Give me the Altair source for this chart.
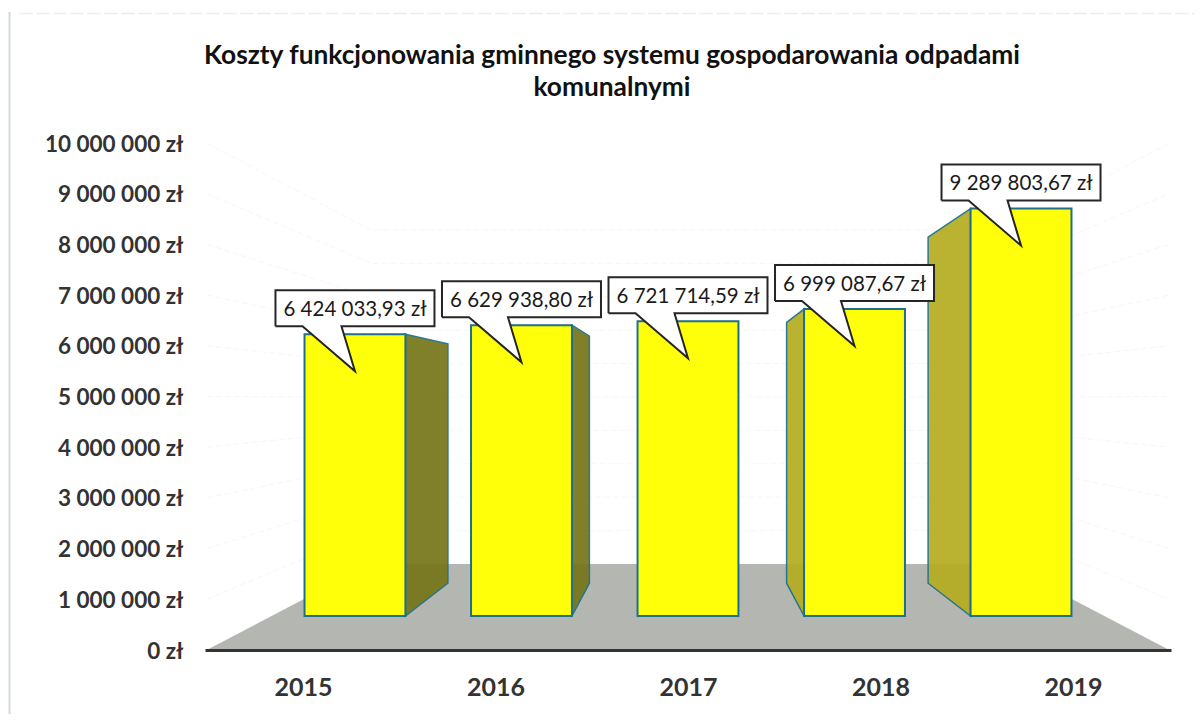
import altair as alt
import pandas as pd

# ---- values ----
YEARS = [2015, 2016, 2017, 2018, 2019]
COSTS = [6424033.93, 6629938.80, 6721714.59, 6999087.67, 9289803.67]
COST_LABELS = ["6 424 033,93 zł", "6 629 938,80 zł", "6 721 714,59 zł",
               "6 999 087,67 zł", "9 289 803,67 zł"]
Y_TICKS = [0, 1000000, 2000000, 3000000, 4000000, 5000000,
           6000000, 7000000, 8000000, 9000000, 10000000]
TITLE = ["Koszty funkcjonowania gminnego systemu gospodarowania odpadami",
         "komunalnymi"]

# ---- perspective of the 3-D chart, in data units ----
VP_X, VP_Y = 2017.0, 4970000.0     # vanishing point
S_FRONT, S_BACK, S_WALL = 0.865, 0.735, 0.659   # depth scales
HALF_BAR = 0.303
PX_X = 192.5      # px per year
PX_Y = 50.7 / 1e6 # px per zł

def proj(x, v, s):
    return VP_X + (x - VP_X) * s, VP_Y + (v - VP_Y) * s

x_scale = alt.Scale(domain=[2017 - 483 / PX_X, 2017 + 483 / PX_X], nice=False, zero=False)
y_scale = alt.Scale(domain=[0, 10000000], nice=False, zero=False)

FONT = "Lato"
x_axis = alt.Axis(values=YEARS, format="d", grid=False, ticks=False, domain=True,
                  domainColor="#333333", domainWidth=3, labelFont=FONT, labelFontWeight="bold",
                  labelFontSize=25, labelColor="#333333", labelPadding=25, labelFlush=False,
                  zindex=1, labelOverlap=False)
y_axis = alt.Axis(values=Y_TICKS, grid=False, ticks=False, domain=False, labelFont=FONT,
                  labelFontWeight="bold", labelFontSize=22.5, labelColor="#333333", labelPadding=22,
                  labelOffset=1,
                  labelExpr="replace(format(datum.value, ','), regexp(',', 'g'), ' ') + ' zł'",
                  zindex=1, labelOverlap=False)

def X():
    return alt.X("x:Q", scale=x_scale, axis=x_axis, title=None)
def Y():
    return alt.Y("y:Q", scale=y_scale, axis=y_axis, title=None)

# scan frame
frame_v = pd.DataFrame({"x": [2017 - (688 - 9.5) / PX_X], "y": [10000000 + (143 - 12) / 50.7 * 1e6],
                        "y2": [-(714 - 650) / 50.7 * 1e6]})
frame_h = pd.DataFrame({"x": [2017 - (688 - 19) / PX_X], "x2": [2017 + (1195 - 688) / PX_X],
                        "y": [10000000 + (143 - 13.5) / 50.7 * 1e6]})
l_frame_v = alt.Chart(frame_v).mark_rule(color="#d3d9dc", strokeWidth=2).encode(X(), Y(), y2="y2:Q")
l_frame_h = alt.Chart(frame_h).mark_rule(color="#ececec", strokeWidth=1.5, strokeDash=[14, 3]).encode(X(), Y(), x2="x2:Q")

# title, as two text lines above the plot
title_df = pd.DataFrame({"x": [2017 - (688 - 612) / PX_X] * 2,
                         "y": [(650 - 56) / 50.7 * 1e6, (650 - 88) / 50.7 * 1e6],
                         "label": TITLE})
l_title = alt.Chart(title_df).mark_text(
    font=FONT, fontSize=26.3, fontWeight="bold", color="#111111", align="center", baseline="middle"
).encode(X(), Y(), text="label:N")

# faint wall grid
rows = []
for t in Y_TICKS:
    p0 = proj(2014.5, t, 1.0)
    p1 = proj(2014.5, t, S_WALL)
    p2 = proj(2019.5, t, S_WALL)
    p3 = proj(2019.5, t, 1.0)
    for i, p in enumerate([p0, p1, p2, p3]):
        rows.append({"t": t, "i": i, "x": p[0], "y": p[1]})
l_grid = alt.Chart(pd.DataFrame(rows)).mark_line(color="#f7f7f7", strokeWidth=1, strokeDash=[6, 3]).encode(
    X(), Y(), detail="t:N", order="i:Q")

# floor
fl = [proj(2014.5, 0, 1.0), proj(2014.5, 0, S_WALL), proj(2019.5, 0, S_WALL), proj(2019.5, 0, 1.0)]
floor = pd.DataFrame({"x": [p[0] for p in fl], "y": [p[1] for p in fl], "y2": [0.0] * 4})
l_floor = alt.Chart(floor).mark_area(color="#b4b7b1", orient="vertical").encode(
    X(), Y(), y2="y2:Q")

# side faces and front faces
side, front, box, text, ptr = [], [], [], [], []
for yr, v, lab in zip(YEARS, COSTS, COST_LABELS):
    left = yr - HALF_BAR
    right = yr + HALF_BAR
    fx0, fy_top = proj(left, v, S_FRONT)
    fx1, fy_bot = proj(right, 0, S_FRONT)
    front.append({"x": fx0, "x2": fx1, "y": fy_top, "y2": fy_bot})
    if yr != VP_X:
        edge = right if yr < VP_X else left
        a = proj(edge, v, S_FRONT); b = proj(edge, v, S_BACK)
        a0 = proj(edge, 0, S_FRONT); b0 = proj(edge, 0, S_BACK)
        kind = "right" if yr < VP_X else "left"
        side.append({"yr": yr, "kind": kind, "x": a[0], "y": a[1], "y2": a0[1]})
        side.append({"yr": yr, "kind": kind, "x": b[0], "y": b[1], "y2": b0[1]})
    cx = (fx0 + fx1) / 2
    gap = 8 / 50.7 * 1e6
    bh = 36 / 50.7 * 1e6
    bw = 79.5 / PX_X
    bot = fy_top + gap
    tip = fy_top - 37 / 50.7 * 1e6
    poly = [(cx - bw, bot), (cx - bw, bot + bh), (cx + bw, bot + bh), (cx + bw, bot),
            (cx - 13.5 / PX_X, bot), (cx, tip), (cx - 52.5 / PX_X, bot), (cx - bw, bot)]
    for i, (px, py) in enumerate(poly):
        ptr.append({"yr": yr, "i": i, "x": px, "y": py})
    text.append({"x": cx, "y": bot + bh / 2, "label": lab})

side = pd.DataFrame(side)
l_side_r = alt.Chart(side[side.kind == "right"]).mark_area(
    color="#77761a", opacity=0.93, stroke="#1f6f8b", strokeWidth=1.5, orient="vertical"
).encode(X(), Y(), y2="y2:Q", detail="yr:N")
l_side_l = alt.Chart(side[side.kind == "left"]).mark_area(
    color="#b5ad22", opacity=0.93, stroke="#1f6f8b", strokeWidth=1.5, orient="vertical"
).encode(X(), Y(), y2="y2:Q", detail="yr:N")
l_front = alt.Chart(pd.DataFrame(front)).mark_rect(
    color="#ffff0a", stroke="#1f6f8b", strokeWidth=2).encode(X(), Y(), x2="x2:Q", y2="y2:Q")

l_call = alt.Chart(pd.DataFrame(ptr)).mark_line(
    fill="#ffffff", stroke="#262626", strokeWidth=2, strokeJoin="miter").encode(
    X(), Y(), detail="yr:N", order="i:Q")
l_text = alt.Chart(pd.DataFrame(text)).mark_text(
    font=FONT, fontSize=20.5, color="#1a1a1a", align="center", baseline="middle", dy=1.5).encode(
    X(), Y(), text="label:N")

chart = alt.layer(l_frame_v, l_frame_h, l_title, l_grid, l_floor, l_side_r, l_side_l, l_front, l_call, l_text).properties(
    width=966, height=507,
    autosize="none",
    background="#ffffff",
    padding={"left": 197, "top": 135, "right": 24, "bottom": 64},
).configure_view(stroke=None)

chart.save("out.html", embed_options={"renderer": "svg", "actions": False})
